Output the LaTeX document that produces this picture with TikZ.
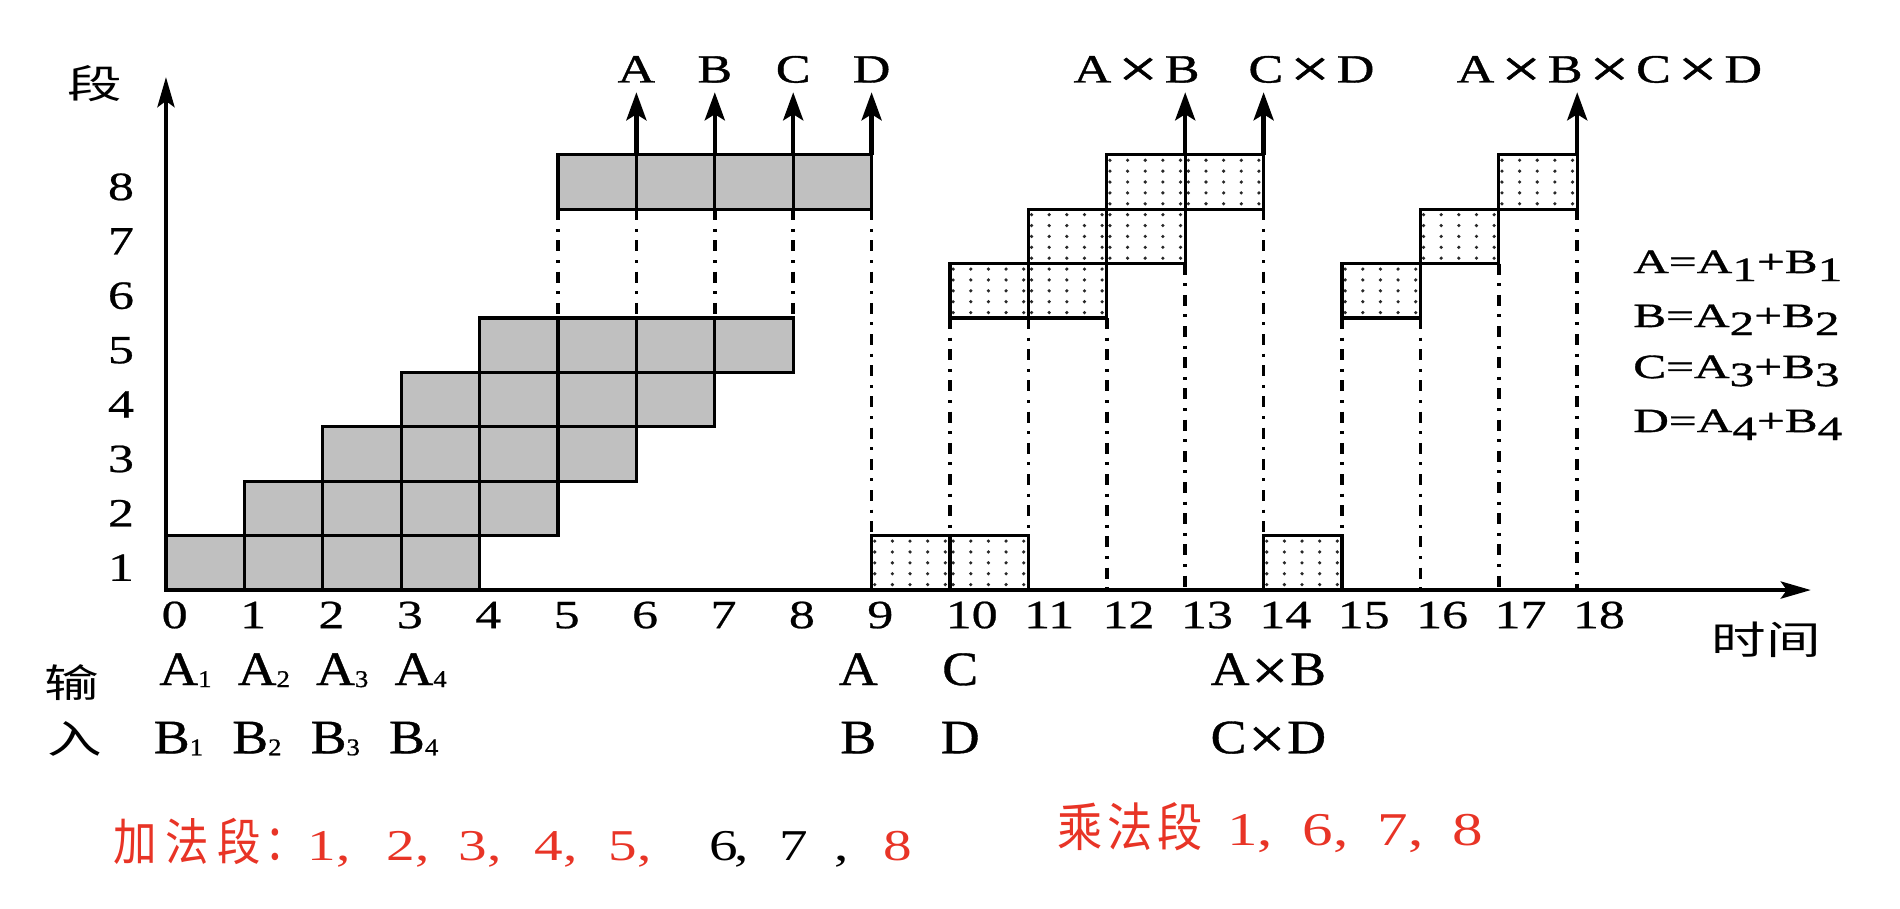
\documentclass[tikz,border=0pt]{standalone}
\usepackage{fontspec}
\setmainfont{Liberation Serif}
\newfontfamily\numf[FakeStretch=1.3,FakeBold=0.6]{Liberation Serif}
\newfontfamily\topf[FakeStretch=1.3,FakeBold=1]{Liberation Serif}
\newfontfamily\legf[FakeStretch=1.45,FakeBold=1]{Liberation Serif}
\newfontfamily\inpf[FakeStretch=1.12,FakeBold=0.8]{Liberation Serif}
\newfontfamily\cjkw[FakeStretch=1.4]{Noto Sans CJK SC}
\newfontfamily\cjkn[FakeStretch=0.87]{Noto Sans CJK SC}
\newfontfamily\redd[FakeStretch=1.3]{Liberation Serif}
\usetikzlibrary{arrows.meta,calc}
\definecolor{cellgray}{RGB}{192,192,192}
\definecolor{redtxt}{RGB}{232,52,38}
\definecolor{dotc}{RGB}{40,40,40}
\tikzset{
  cell/.style={draw=black, line width=1.6pt, fill=cellgray},
  mcell/.style={draw=black, line width=1.6pt},
  guide/.style={line width=1.8pt, dash pattern=on 5.5pt off 4.3pt on 1.5pt off 4.3pt},
  axis/.style={line width=2.2pt, -{Stealth[length=15pt,width=8.5pt,inset=3pt]}},
  outarr/.style={line width=2.2pt, -{Stealth[length=14pt,width=10pt,inset=3pt]}},
  numlbl/.style={inner sep=0pt, font=\numf\fontsize{20}{20}\selectfont},
  toplbl/.style={inner sep=0pt, font=\topf\fontsize{20}{20}\selectfont},
  leglbl/.style={inner sep=0pt, anchor=base west, font=\legf\fontsize{17}{17}\selectfont},
  inplbl/.style={inner sep=0pt, font=\inpf\fontsize{24}{24}\selectfont},
  cjklbl/.style={inner sep=0pt, font=\cjkw\fontsize{19.5}{19.5}\selectfont},
  redcjk/.style={inner sep=0pt, text=redtxt, font=\cjkn\fontsize{25}{25}\selectfont},
  reddig/.style={inner sep=0pt, anchor=base, text=redtxt, font=\redd\fontsize{22}{22}\selectfont},
  blkdig/.style={reddig, text=black},
  reddigb/.style={inner sep=0pt, anchor=base, text=redtxt, font=\redd\fontsize{23.5}{23.5}\selectfont},
}
\newcommand{\subl}[1]{\raisebox{-4pt}{#1}}
\newcommand{\subi}[1]{\raisebox{-1pt}{\fontsize{12}{12}\selectfont #1}}
\newcommand{\tx}{\hspace{3.5pt}\raisebox{-2.2pt}{\fontsize{27}{27}\selectfont ×}\hspace{3.5pt}}
\newcommand{\ix}{\hspace{1pt}\raisebox{-2.4pt}{\fontsize{29}{29}\selectfont ×}\hspace{1pt}}
\begin{document}
\begin{tikzpicture}[x=39.2pt,y=27.2pt]
\useasboundingbox (-2.117,-5.846) rectangle (22.117,10.846);

% dash-dot guide lines
\foreach \t/\a/\b in {5/7/5,6/7/5,7/7/5,8/7/5,9/7/1,10/5/1,11/5/1,12/5/0,13/6/0,14/7/1,15/5/1,16/5/0,17/6/0,18/7/0}{
  \draw[guide] (\t,\a) -- (\t,\b);
}

% adder (grey) cells
\foreach \k/\a/\b in {1/0/3,2/1/4,3/2/5,4/3/6,5/4/7,8/5/8}{
  \foreach \t in {\a,...,\b}{
    \draw[cell] (\t,\k-1) rectangle (\t+1,\k);
  }
}

% multiplier (dotted) cells
\foreach \t/\k in {9/1,10/1,10/6,11/6,11/7,12/7,12/8,13/8,14/1,15/6,16/7,17/8}{
  \fill[white] (\t,\k-1) rectangle (\t+1,\k);
  \foreach \i in {0,...,4}{
    \foreach \j in {0,...,4}{
      \fill[dotc] (\t+0.04+0.225*\i,\k-1+0.1+0.2*\j) circle[radius=0.9pt];
    }
  }
  \draw[mcell] (\t,\k-1) rectangle (\t+1,\k);
}

% axes
\coordinate (O) at (0,0);
\coordinate (xend) at (20.98,0);
\coordinate (yend) at (0,9.43);
\draw[axis] (O) -- (xend);
\draw[axis] (O) -- (yend);

% output arrows
\foreach \t/\n in {6/A,7/B,8/C,9/D,13/AB,14/CD,18/ABCD}{
  \coordinate (s\n) at (\t,8);
  \coordinate (e\n) at (\t,9.15);
  \draw[outarr] (s\n) -- (e\n);
}

% axis labels
\node[cjklbl] (duan) at (-0.906,9.30) {段};
\node[cjklbl] (shijian) at (20.41,-0.92) {时间};
\foreach \k in {1,...,8}{
  \node[numlbl, anchor=base] (rl\k) at (-0.574,\k-0.83) {\k};
}
\foreach \k in {0,...,18}{
  \node[numlbl, anchor=base west] (tl\k) at (\k-0.06,-0.70) {\k};
}

% top labels
\node[toplbl, anchor=base] (lA) at (6,9.33) {A};
\node[toplbl, anchor=base] (lB) at (7,9.33) {B};
\node[toplbl, anchor=base] (lC) at (8,9.33) {C};
\node[toplbl, anchor=base] (lD) at (9,9.33) {D};
\node[toplbl, anchor=base] (lAB) at (12.38,9.33) {A\tx B};
\node[toplbl, anchor=base] (lCD) at (14.61,9.33) {C\tx D};
\node[toplbl, anchor=base] (lABCD) at (18.41,9.33) {A\tx B\tx C\tx D};

% legend
\node[leglbl] (legA) at (18.71,5.827) {A=A\subl{1}+B\subl{1}};
\node[leglbl] (legB) at (18.71,4.835) {B=A\subl{2}+B\subl{2}};
\node[leglbl] (legC) at (18.71,3.897) {C=A\subl{3}+B\subl{3}};
\node[leglbl] (legD) at (18.71,2.904) {D=A\subl{4}+B\subl{4}};

% input labels
\node[cjklbl] (shu) at (-1.2,-1.71) {输};
\node[cjklbl] (ru) at (-1.16,-2.74) {入};
\foreach \k in {1,...,4}{
  \node[inplbl, anchor=base west] (ia\k) at (\k-1-0.09,-1.746) {A\subi{\k}};
  \node[inplbl, anchor=base west] (ib\k) at (\k-1-0.16,-3.0) {B\subi{\k}};
}
\node[inplbl, anchor=base] (iA) at (8.83,-1.746) {A};
\node[inplbl, anchor=base] (iB) at (8.83,-3.0) {B};
\node[inplbl, anchor=base] (iC) at (10.13,-1.746) {C};
\node[inplbl, anchor=base] (iD) at (10.13,-3.0) {D};
\node[inplbl, anchor=base] (iAB) at (14.06,-1.746) {A\ix B};
\node[inplbl, anchor=base] (iCD) at (14.06,-3.0) {C\ix D};

% red note, adder stages
\node[redcjk, anchor=base west] (addnote) at (-0.676,-4.97) {加\hspace{4.2pt}法\hspace{4.2pt}段\hspace{2pt}：};
\foreach \d/\x/\c in {1/1.990/2.270,2/2.997/3.278,3/3.916/4.196,4/4.885/5.166,5/5.829/6.110}{
  \node[reddig] (ad\d) at (\x,-4.963) {\d};
  \node[reddig] (ac\d) at (\c,-4.963) {,};
}
\node[blkdig] (ad6) at (7.117,-4.963) {6};
\node[blkdig] (ac6) at (7.347,-4.963) {,};
\node[blkdig] (ad7) at (8.010,-4.963) {7};
\node[blkdig] (ac7) at (8.622,-4.963) {,};
\node[reddig] (ad8) at (9.337,-4.963) {8};

% red note, multiplier stages
\node[redcjk, anchor=base west, font=\cjkn\fontsize{26}{26}\selectfont] (mulnote) at (11.365,-4.72) {乘\hspace{2.5pt}法\hspace{2.5pt}段};
\foreach \d/\x in {1/13.737,6/14.694,7/15.651,8/16.607}{
  \node[reddigb] (md\d) at (\x,-4.688) {\d};
}
\foreach \i/\c in {1/14.018,2/14.987,3/15.944}{
  \node[reddigb] (mc\i) at (\c,-4.688) {,};
}
\end{tikzpicture}
\end{document}
